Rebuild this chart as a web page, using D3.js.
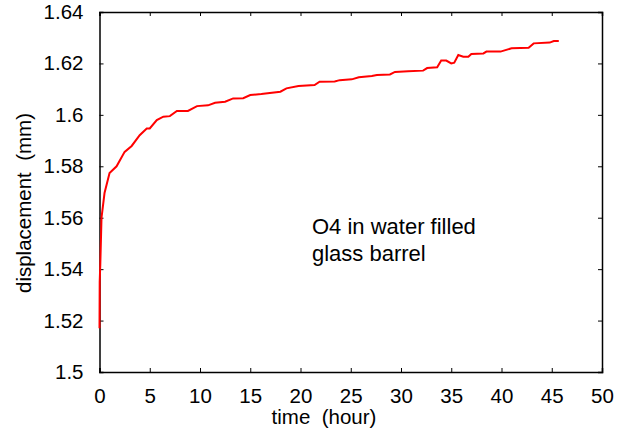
<!DOCTYPE html>
<html>
<head>
<meta charset="utf-8">
<script src="https://cdn.jsdelivr.net/npm/d3@7"></script>
<style>
  body { margin: 0; background: #fff; }
  svg text { font-family: "Liberation Sans", Arial, sans-serif; fill: #000; }
</style>
</head>
<body>
<div class="chart"></div>
<script>
const w = 636;
const h = 439;
const margin = { top: 12, right: 34, bottom: 67, left: 99.5 };

// readings
const timeHours = [0, 0.02, 0.08, 0.2, 0.5, 1.0, 1.7, 2.5, 3.2, 4.0, 4.7, 5.0, 5.7, 6.35, 7.0,
  7.7, 8.8, 9.7, 10.8, 11.5, 12.5, 13.3, 14.3, 15.0, 16.1, 18.0, 18.6, 19.8, 21.4, 21.9,
  23.4, 23.9, 25.1, 25.8, 27.1, 27.6, 28.9, 29.4, 30.7, 32.2, 32.6, 33.6, 34.0, 34.5, 35.0,
  35.3, 35.7, 36.2, 36.7, 37.0, 38.2, 38.5, 39.9, 41.0, 42.7, 43.2, 44.8, 45.2, 45.7];
const displacement = [1.517, 1.535, 1.542, 1.560, 1.5696, 1.5774, 1.580, 1.5856, 1.5879, 1.5921,
  1.5947, 1.5947, 1.598, 1.5993, 1.5995, 1.6015, 1.6015, 1.6034, 1.6037, 1.6047, 1.6051,
  1.6064, 1.6065, 1.6077, 1.6081, 1.609, 1.6103, 1.6112, 1.6116, 1.6129, 1.6130, 1.6135,
  1.6138, 1.6146, 1.6151, 1.6155, 1.6157, 1.6167, 1.6170, 1.6172, 1.6182, 1.6185, 1.6211,
  1.6211, 1.6200, 1.6203, 1.6233, 1.6226, 1.6226, 1.6237, 1.6239, 1.6246, 1.6246, 1.6259,
  1.6261, 1.6278, 1.6281, 1.6287, 1.6287];

const xTicks = [0, 5, 10, 15, 20, 25, 30, 35, 40, 45, 50];
const yTicks = [1.5, 1.52, 1.54, 1.56, 1.58, 1.6, 1.62, 1.64];
const xLabel = 'time  (hour)';
const yLabel = 'displacement  (mm)';
const note = ['O4 in water filled', 'glass barrel'];

const data = timeHours.map((t, i) => ({ t: t, d: displacement[i] }));

const svg = d3.select('.chart')
  .append('svg')
  .attr('width', w)
  .attr('height', h);

const xScale = d3.scaleLinear()
  .domain([0, 50])
  .range([margin.left, w - margin.right]);

const yScale = d3.scaleLinear()
  .domain([1.5, 1.64])
  .range([h - margin.bottom, margin.top]);

const fmt = (d) => String(+d.toFixed(2));

// bottom axis
svg.append('g')
  .attr('transform', `translate(0,${h - margin.bottom})`)
  .call(d3.axisBottom(xScale).tickValues(xTicks).tickFormat(fmt).tickSize(-4).tickPadding(16));

// left axis
svg.append('g')
  .attr('transform', `translate(${margin.left},0)`)
  .call(d3.axisLeft(yScale).tickValues(yTicks).tickFormat(fmt).tickSize(-4).tickPadding(16));

// mirror ticks top and right
svg.append('g')
  .attr('transform', `translate(0,${margin.top})`)
  .call(d3.axisTop(xScale).tickValues(xTicks).tickFormat('').tickSize(-4));
svg.append('g')
  .attr('transform', `translate(${w - margin.right},0)`)
  .call(d3.axisRight(yScale).tickValues(yTicks).tickFormat('').tickSize(-4));

svg.selectAll('.domain').attr('stroke', '#000').attr('stroke-width', 1.5);
svg.selectAll('.tick line').attr('stroke', '#000');
svg.selectAll('.tick text').style('font-size', '20.5px');

// the curve
const line = d3.line()
  .x((d) => xScale(d.t))
  .y((d) => yScale(d.d));

svg.append('path')
  .datum(data)
  .attr('fill', 'none')
  .attr('stroke', '#ff0000')
  .attr('stroke-width', 2)
  .attr('d', line);

// labels
svg.append('text')
  .attr('x', 324)
  .attr('y', 424)
  .attr('text-anchor', 'middle')
  .style('font-size', '20.5px')
  .style('white-space', 'pre')
  .text(xLabel);

svg.append('text')
  .attr('transform', 'translate(31,203) rotate(-90)')
  .attr('text-anchor', 'middle')
  .style('font-size', '20.5px')
  .style('white-space', 'pre')
  .text(yLabel);

svg.append('g')
  .selectAll('text')
  .data(note)
  .enter()
  .append('text')
  .attr('x', 312)
  .attr('y', (d, i) => 234 + i * 27)
  .style('font-size', '22px')
  .text((d) => d);
</script>
</body>
</html>
